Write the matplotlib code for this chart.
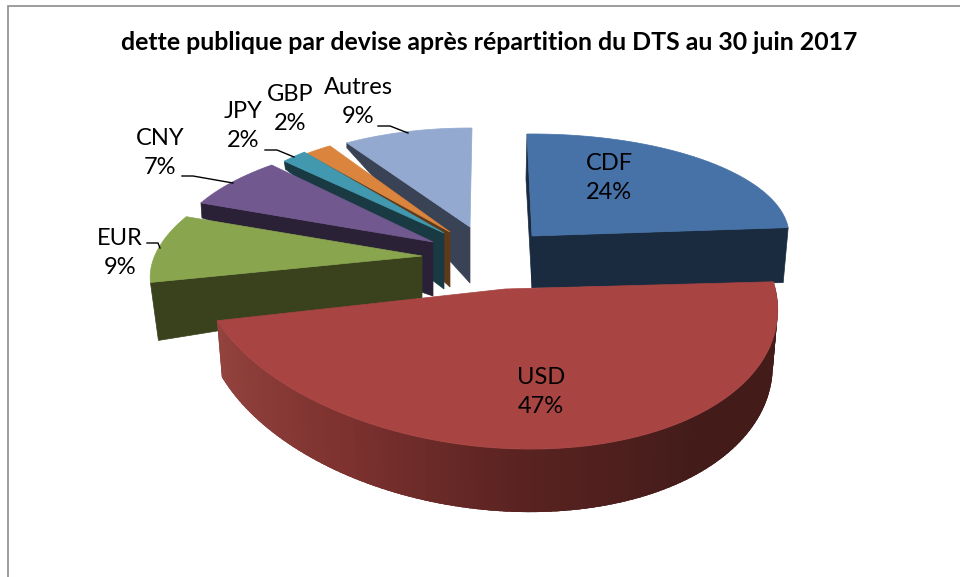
"""
plot.py

Camembert 3D eclate: dette publique par devise.
"""

import numpy as np
import matplotlib
matplotlib.use('Agg')
import matplotlib.pyplot as plt
from matplotlib.colors import to_rgb

TITLE = 'dette publique par devise après répartition du DTS au 30 juin 2017'
devises = ['CDF', 'USD', 'EUR', 'CNY', 'JPY', 'GBP', 'Autres']
parts = [24, 47, 9, 7, 2, 2, 9]

couleurs = ['#4672A7', '#A84442', '#89A54E', '#71588F', '#4198AF', '#DB843D', '#93A9CF']
couleurs_cote = ['#1A2B40', '#431C1A', '#39421D', '#2B2136', '#193A43', '#5F3A1A', '#3A4255']

# apex, centre du bord, demi-axes et cisaillement de chaque part (en pixels)
apex = [(532, 236), (505, 289), (422, 256), (433, 242), (444, 233), (450, 232), (470, 227)]
centre = [(532, 236), (488, 286), (422, 256), (433, 242), (444, 233), (450, 232), (470, 227)]
axe_a = [257, 288, 266, 256, 219, 224, 233]
axe_b = [102, 163, 118, 105, 105, 102, 99]
skew_x = [-5, -32, 56, 37, 0, 0, 2]
skew_y = [-2, 6, 3, 7, 0, 0, 1]
# epaisseur: a l'apex, au bord, decalage x au bord
ep_apex = [52, 0, 42, 54, 56, 55, 56]
ep_bord = [55, 0, 58, 15, 8, 4, 5]
dx_bord = [-5, 0, 8, 1, 1, 0, 0]
ordre = [6, 5, 4, 3, 2, 0, 1]

etiquettes = [(609, 178), (541, 392), (120, 253), (160, 153), (243, 126), (290, 109), (358, 102)]
leaders = {
    2: [(147, 243), (158, 243), (160, 248)],
    3: [(182, 176), (193, 176), (233, 183)],
    4: [(265, 150), (277, 150), (294, 157)],
    6: [(378, 126), (390, 126), (408, 133)],
}


def bord(i, t):
    """Point du bord de la part i pour l'angle t (degres, sens horaire depuis midi)."""
    r = np.radians(t)
    x = centre[i][0] + axe_a[i] * np.sin(r) + skew_x[i] * np.cos(r)
    y = centre[i][1] - axe_b[i] * np.cos(r) + skew_y[i] * np.sin(r)
    return x, y


def cote_usd(ax, i, t0, t1):
    # bande laterale avec degrade, du rouge clair a gauche au brun a droite
    stops_t = [86, 140, 180, 215, 256]
    stops_c = np.array([to_rgb(c) for c in ['#431C1A', '#431C1A', '#5A2321', '#7D322F', '#94443F']])
    ts = np.arange(t0, t1, 1.5)
    for a in ts:
        # les bandes se recouvrent pour eviter les rayures d'anticrenelage
        tt = np.linspace(a, min(a + 4, t1), 5)
        x, y = bord(i, tt)
        r = np.radians(tt)
        xb = x - 5 * np.sin(r)
        yb = y + 54 - 9 * np.cos(r)
        col = [np.interp(a, stops_t, stops_c[:, k]) for k in range(3)]
        ax.fill(np.r_[x, xb[::-1]], np.r_[y, yb[::-1]], color=col, lw=0)


fig = plt.figure(figsize=(9.6, 5.77), dpi=100)
ax = fig.add_axes([0, 0, 1, 1])
ax.set_xlim(0, 960)
ax.set_ylim(577, 0)
ax.axis('off')

plt.rcParams['font.family'] = ['Lato', 'DejaVu Sans']

# cadre du graphique
ax.plot([8, 8, 960], [577, 5.5, 5.5], color='#8C8C8C', lw=1.2, solid_joinstyle='miter')

bornes = np.r_[0, np.cumsum(parts)] * 3.6

for i in ordre:
    t0, t1 = bornes[i], bornes[i + 1]
    ts = np.linspace(t0, t1, 80)
    xr, yr = bord(i, ts)
    ax_, ay_ = apex[i]

    if devises[i] == 'USD':
        cote_usd(ax, i, t0, t1)
    else:
        # face visible: bord de fin pour CDF, bord de debut pour les autres
        tc = t1 if devises[i] == 'CDF' else t0
        px, py = bord(i, tc)
        ax.fill([px, ax_, ax_, px + dx_bord[i]],
                [py, ay_, ay_ + ep_apex[i], py + ep_bord[i]],
                color=couleurs_cote[i], lw=0.5)
        if devises[i] == 'CDF':
            px, py = bord(i, t0)
            ax.fill([px, ax_, ax_, px - 1], [py, ay_, ay_ + ep_apex[i], py + 45],
                    color=couleurs_cote[i], lw=0.5)

    ax.fill(np.r_[ax_, xr], np.r_[ay_, yr], color=couleurs[i], lw=0.5)

for i, pts in leaders.items():
    ax.plot([p[0] for p in pts], [p[1] for p in pts], color='black', lw=1.0)

for i, (x, y) in enumerate(etiquettes):
    ax.text(x, y, f'{devises[i]}\n{parts[i]}%', ha='center', va='center',
            fontsize=17, linespacing=1.5, color='black')

ax.text(489, 43, TITLE, ha='center', va='center', fontsize=17.9, fontweight='bold', color='black')

plt.savefig('out.png', dpi=100)
plt.close(fig)
